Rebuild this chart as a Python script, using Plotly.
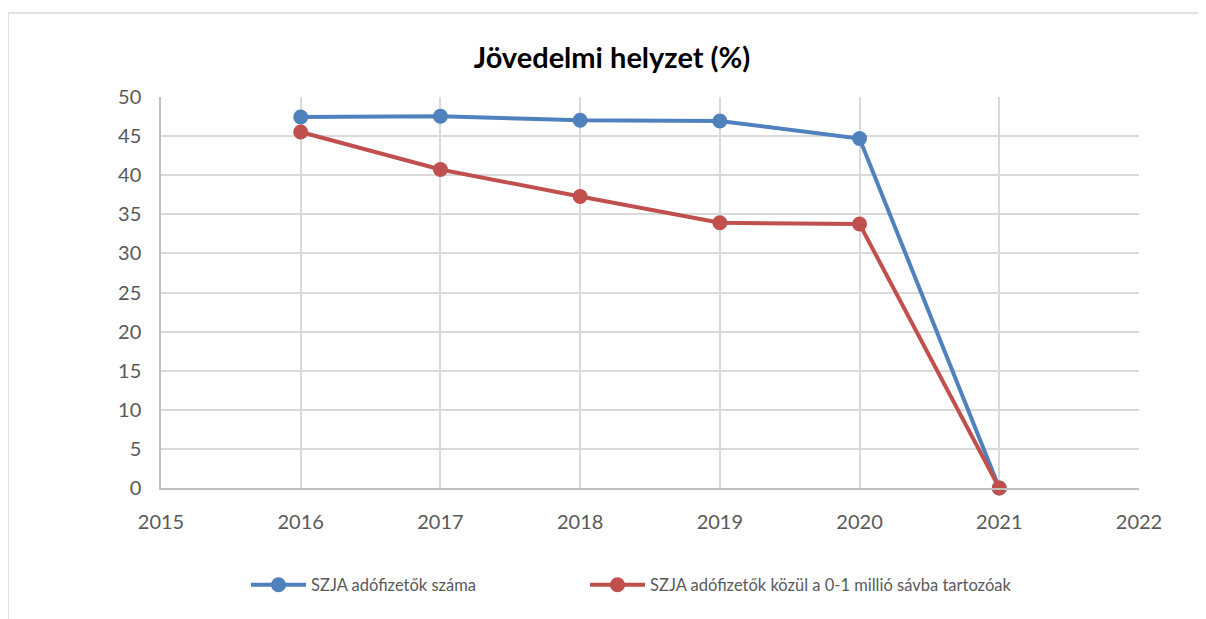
import plotly.graph_objects as go

years = [2016, 2017, 2018, 2019, 2020, 2021]
szja_adofizetok = [47.45, 47.53, 47.03, 46.94, 44.69, 0]
szja_0_1_millio = [45.53, 40.73, 37.28, 33.91, 33.75, 0]
series_names = ["SZJA adófizetők száma", "SZJA adófizetők közül a 0-1 millió sávba tartozóak"]
title_text = "Jövedelmi helyzet (%)"

BLUE = "#4f81bd"
RED = "#c0504d"
FONT = "Lato, Carlito, Open Sans, sans-serif"

fig = go.Figure()
fig.add_trace(go.Scatter(x=years, y=szja_adofizetok, mode="lines+markers", name=series_names[0],
                         line=dict(color=BLUE, width=4), marker=dict(color=BLUE, size=15),
                         cliponaxis=False, legend="legend"))
fig.add_trace(go.Scatter(x=years, y=szja_0_1_millio, mode="lines+markers", name=series_names[1],
                         line=dict(color=RED, width=4), marker=dict(color=RED, size=15),
                         cliponaxis=False, legend="legend2"))

# page offset of 8px (body margin) is compensated
OFF = 8
W, H = 1206 - OFF, 619 - OFF
L, T = 161 - OFF, 97 - OFF
R = W - (1139 - OFF)
B = H - (488 - OFF)
pw, ph = W - L - R, H - T - B

def px(x):
    return (x - OFF - L) / pw

def py(y):
    return (H - B - (y - OFF)) / ph

legend_common = dict(orientation="h", xanchor="left", y=py(585), yanchor="middle",
                     font=dict(size=16.5, color="#595959", family=FONT),
                     itemwidth=55, bgcolor="rgba(0,0,0,0)")

fig.update_layout(
    width=W, height=H,
    margin=dict(l=L, r=R, t=T, b=B),
    paper_bgcolor="white", plot_bgcolor="white",
    font=dict(family=FONT, color="#595959", size=20),
    title=dict(text="<b>" + title_text + "</b>", xref="container", x=(612 - OFF) / W, xanchor="center",
               yref="container", y=1 - (58 - OFF) / H, yanchor="middle",
               font=dict(size=29, color="black", family=FONT)),
    showlegend=True,
    legend=dict(x=px(246), **legend_common),
    legend2=dict(x=px(585), **legend_common),
    xaxis=dict(range=[2015, 2022], dtick=1, tick0=2015, showgrid=True, gridcolor="#d9d9d9", gridwidth=1.5,
               showline=True, linecolor="#bfbfbf", linewidth=1.5, zeroline=False, ticks="",
               ticklabelstandoff=15, tickfont=dict(size=20, color="#595959")),
    yaxis=dict(range=[0, 50], dtick=5, showgrid=True, gridcolor="#d9d9d9", gridwidth=1.5,
               showline=True, linecolor="#bfbfbf", linewidth=1.5, zeroline=False, ticks="",
               ticklabelstandoff=14, tickfont=dict(size=20, color="#595959")),
    shapes=[dict(type="rect", xref="paper", yref="paper", x0=px(8), x1=px(1210), y0=py(625), y1=py(13),
                 line=dict(color="#d9d9d9", width=1.5), fillcolor="rgba(0,0,0,0)", layer="below")],
)
fig.write_html("out.html")
